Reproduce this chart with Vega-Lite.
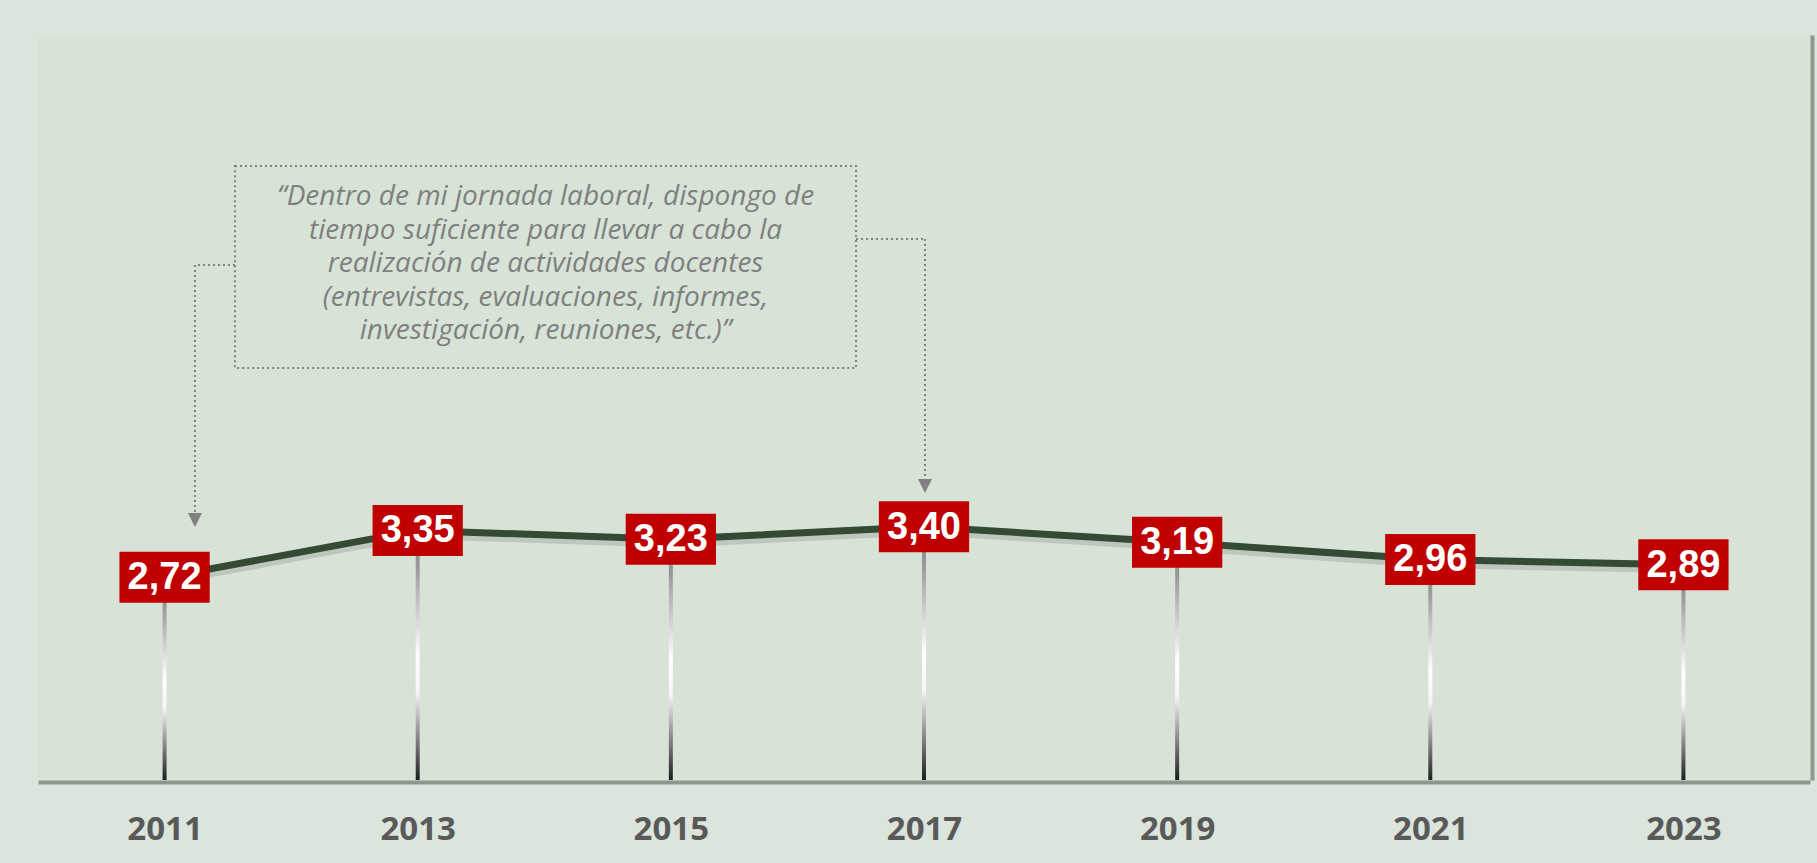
{
  "$schema": "https://vega.github.io/schema/vega-lite/v6.json",
  "width": 1772,
  "height": 745,
  "autosize": {"type": "none"},
  "padding": {"left": 38, "top": 35, "right": 7, "bottom": 83},
  "background": "#dce5dc",
  "config": {"view": {"fill": "#d8e3d8", "stroke": null}},
  "datasets": {
    "series": [
      {"year": 2011, "value": 2.72, "label": "2,72"},
      {"year": 2013, "value": 3.35, "label": "3,35"},
      {"year": 2015, "value": 3.23, "label": "3,23"},
      {"year": 2017, "value": 3.40, "label": "3,40"},
      {"year": 2019, "value": 3.19, "label": "3,19"},
      {"year": 2021, "value": 2.96, "label": "2,96"},
      {"year": 2023, "value": 2.89, "label": "2,89"}
    ],
    "box": [
      {"x1": 2011.556, "x2": 2016.463, "y1": 8.242, "y2": 5.530}
    ],
    "quote": [
      {"x": 2014.01, "y": 7.826, "lines": ["“Dentro de mi jornada laboral, dispongo de", "tiempo suficiente para llevar a cabo la", "realización de actividades docentes", "(entrevistas, evaluaciones, informes,", "investigación, reuniones, etc.)”"]}
    ],
    "connectors": [
      {"x1": 2011.556, "y1": 6.913, "x2": 2011.240, "y2": 6.913},
      {"x1": 2011.240, "y1": 6.913, "x2": 2011.240, "y2": 3.58},
      {"x1": 2016.463, "y1": 7.262, "x2": 2017.008, "y2": 7.262},
      {"x1": 2017.008, "y1": 7.262, "x2": 2017.008, "y2": 4.04}
    ],
    "arrows": [
      {"x": 2011.240, "y": 3.49},
      {"x": 2017.008, "y": 3.946}
    ]
  },
  "layer": [
    {
      "data": {"name": "series"},
      "mark": {
        "type": "bar",
        "orient": "vertical",
        "width": 4,
        "fill": {
          "gradient": "linear", "x1": 0, "y1": 0, "x2": 0, "y2": 1,
          "stops": [
            {"offset": 0, "color": "#808080"},
            {"offset": 0.15, "color": "#9a9a9a"},
            {"offset": 0.5, "color": "#ffffff"},
            {"offset": 0.65, "color": "#f4f4f4"},
            {"offset": 1, "color": "#1e1e1e"}
          ]
        }
      },
      "encoding": {
        "x": {"field": "year", "type": "quantitative", "scale": {"domain": [2010, 2024], "nice": false, "padding": 0},
          "axis": {"values": [2011, 2013, 2015, 2017, 2019, 2021, 2023], "format": "d", "title": null,
            "grid": false, "ticks": false, "tickSize": 0, "offset": 2,
            "domainColor": "#8e978e", "domainWidth": 4,
            "labelFont": "Open Sans", "labelFontWeight": "bold", "labelFontSize": 33,
            "labelColor": "#595959", "labelBaseline": "middle", "labelPadding": 47, "labelFlush": false}},
        "y": {"field": "value", "type": "quantitative", "scale": {"domain": [0, 10], "nice": false},
          "axis": {"orient": "right", "title": null, "labels": false, "ticks": false, "grid": false, "offset": 2,
            "domainColor": "#8e978e", "domainWidth": 4}},
        "y2": {"datum": 0}
      }
    },
    {
      "data": {"name": "series"},
      "mark": {"type": "line", "color": "#000000", "opacity": 0.12, "strokeWidth": 9, "yOffset": 4},
      "encoding": {
        "x": {"field": "year", "type": "quantitative"},
        "y": {"field": "value", "type": "quantitative"}
      }
    },
    {
      "data": {"name": "series"},
      "mark": {"type": "line", "color": "#344a35", "strokeWidth": 7},
      "encoding": {
        "x": {"field": "year", "type": "quantitative"},
        "y": {"field": "value", "type": "quantitative"}
      }
    },
    {
      "data": {"name": "series"},
      "mark": {"type": "point", "shape": "M-1.77,-1H1.77V1H-1.77Z", "size": 2601, "filled": true, "fill": "#c00000", "opacity": 1, "strokeWidth": 0},
      "encoding": {
        "x": {"field": "year", "type": "quantitative"},
        "y": {"field": "value", "type": "quantitative"}
      }
    },
    {
      "data": {"name": "series"},
      "mark": {"type": "text", "font": "Liberation Sans", "fontWeight": "bold", "fontSize": 38, "color": "#ffffff", "align": "center", "baseline": "middle", "dy": 1},
      "encoding": {
        "x": {"field": "year", "type": "quantitative"},
        "y": {"field": "value", "type": "quantitative"},
        "text": {"field": "label"}
      }
    },
    {
      "data": {"name": "box"},
      "mark": {"type": "rect", "fill": null, "stroke": "#808080", "strokeWidth": 2, "strokeDash": [2, 3]},
      "encoding": {
        "x": {"field": "x1", "type": "quantitative"},
        "x2": {"field": "x2"},
        "y": {"field": "y1", "type": "quantitative"},
        "y2": {"field": "y2"}
      }
    },
    {
      "data": {"name": "quote"},
      "mark": {"type": "text", "font": "Open Sans", "fontStyle": "italic", "fontSize": 28, "color": "#7f7f7f", "align": "center", "baseline": "middle", "lineHeight": 33.6},
      "encoding": {
        "x": {"field": "x", "type": "quantitative"},
        "y": {"field": "y", "type": "quantitative"},
        "text": {"field": "lines"}
      }
    },
    {
      "data": {"name": "connectors"},
      "mark": {"type": "rule", "stroke": "#808080", "strokeWidth": 2, "strokeDash": [2, 3]},
      "encoding": {
        "x": {"field": "x1", "type": "quantitative"},
        "x2": {"field": "x2"},
        "y": {"field": "y1", "type": "quantitative"},
        "y2": {"field": "y2"}
      }
    },
    {
      "data": {"name": "arrows"},
      "mark": {"type": "point", "shape": "M-1,-1L1,-1L0,1Z", "size": 196, "filled": true, "fill": "#808080", "opacity": 1, "strokeWidth": 0},
      "encoding": {
        "x": {"field": "x", "type": "quantitative"},
        "y": {"field": "y", "type": "quantitative"}
      }
    }
  ]
}
